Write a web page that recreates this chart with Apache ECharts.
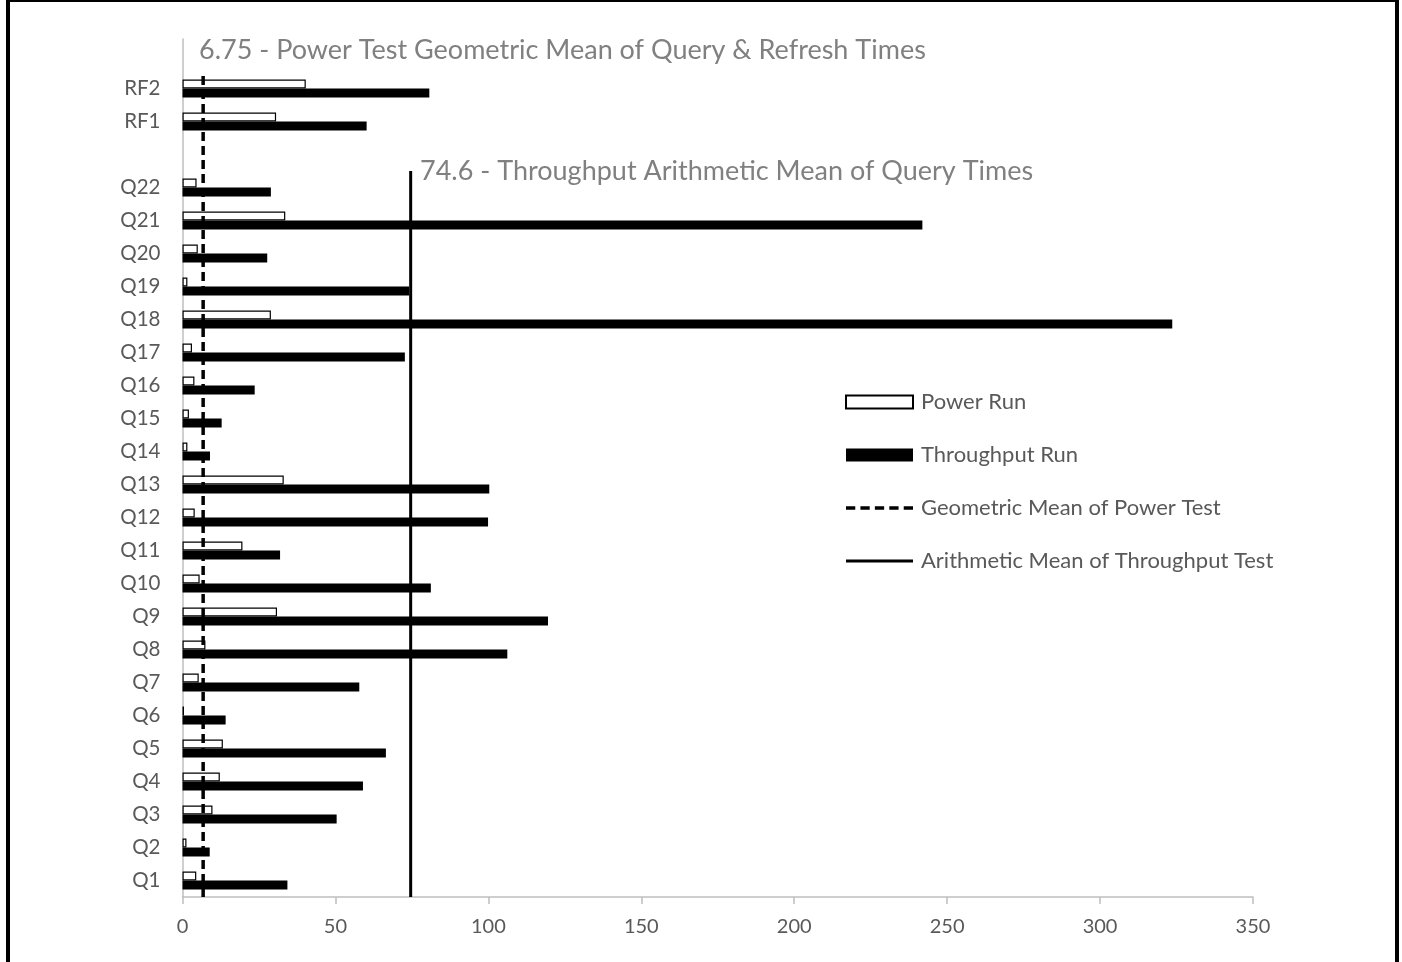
<!DOCTYPE html>
<html>
<head>
<meta charset="utf-8">
<script src="https://cdn.jsdelivr.net/npm/echarts@6/dist/echarts.min.js"></script>
<style>
  html, body { margin: 0; padding: 0; background: #fff; }
  #chart { width: 1402px; height: 962px; position: absolute; left: 0; top: 0; }
  #frame { position: absolute; left: 6px; top: 0; width: 1385px; height: 970px;
           border-left: 4px solid #000; border-right: 4px solid #000; border-top: 2px solid #000;
           pointer-events: none; }
</style>
</head>
<body>
<div id="chart"></div>
<div id="frame"></div>
<script>
// Categories from bottom to top (blank slots are spacers)
const categories = ['Q1','Q2','Q3','Q4','Q5','Q6','Q7','Q8','Q9','Q10','Q11','Q12','Q13','Q14','Q15','Q16','Q17','Q18','Q19','Q20','Q21','Q22',' ','RF1','RF2','  '];
const powerRun = [4.5, 1.3, 9.8, 12.2, 13.2, 0.5, 5.3, 7.5, 30.9, 5.6, 19.6, 4.0, 33.1, 1.6, 2.1, 3.9, 3.1, 28.9, 1.6, 5.0, 33.6, 4.6, null, 30.6, 40.3, null];
const throughputRun = [34.3, 8.9, 50.4, 59.0, 66.5, 14.1, 57.8, 106.2, 119.5, 81.2, 31.9, 99.9, 100.3, 9.0, 12.8, 23.6, 72.7, 323.6, 74.1, 27.7, 241.9, 28.9, null, 60.2, 80.7, null];
const GEO_MEAN = 6.75;
const ARITH_MEAN = 74.6;
const xTicks = [0, 350, 50]; // min, max, interval
const seriesNames = ['Power Run', 'Throughput Run', 'Geometric Mean of Power Test', 'Arithmetic Mean of Throughput Test'];
const geoLabel = GEO_MEAN + ' - Power Test Geometric Mean of Query & Refresh Times';
const arithLabel = ARITH_MEAN + ' - Throughput Arithmetic Mean of Query Times';

const FONT = 'Lato';
const dashIcon = 'path://M0,0H9V3.5H0Z M14,0H23V3.5H14Z M28,0H37V3.5H28Z M42,0H51V3.5H42Z M56,0H65V3.5H56Z';
const solidIcon = 'path://M0,0H67V3H0Z';

const chart = echarts.init(document.getElementById('chart'));
const option = {
  animation: false,
  backgroundColor: '#fff',
  textStyle: { fontFamily: FONT },
  grid: { left: 182.5, right: 149, top: 39, bottom: 65, containLabel: false },
  legend: {
    orient: 'vertical',
    left: 845, top: 391, padding: 0,
    itemWidth: 67, itemHeight: 13, itemGap: 31,
    data: [
      { name: seriesNames[0], icon: 'rect' },
      { name: seriesNames[1], icon: 'rect' },
      { name: seriesNames[2], icon: dashIcon, itemStyle: { color: '#000', borderWidth: 0 } },
      { name: seriesNames[3], icon: solidIcon, itemStyle: { color: '#000', borderWidth: 0 } }
    ],
    textStyle: { fontFamily: FONT, fontSize: 22, color: '#595959', padding: [0, 0, 0, 3] }
  },
  xAxis: {
    type: 'value', min: xTicks[0], max: xTicks[1], interval: xTicks[2],
    splitLine: { show: false },
    axisLine: { show: true, lineStyle: { color: '#bfbfbf', width: 1.5 } },
    axisTick: { show: true, length: 7, lineStyle: { color: '#bfbfbf', width: 1.5 } },
    axisLabel: { color: '#595959', fontSize: 20, fontFamily: FONT, margin: 20 }
  },
  yAxis: [
    {
      type: 'category', data: categories,
      axisLine: { show: true, lineStyle: { color: '#bfbfbf', width: 1.5 } },
      axisTick: { show: false },
      axisLabel: { color: '#595959', fontSize: 20.5, fontFamily: FONT, margin: 22 },
      splitLine: { show: false }
    },
    { type: 'value', min: 0, max: categories.length, show: false }
  ],
  series: [
    {
      name: seriesNames[0], type: 'bar', data: powerRun, barWidth: 9, barGap: '0%',
      itemStyle: { color: '#ffffff', borderColor: '#000', borderWidth: 1.2 }
    },
    {
      name: seriesNames[1], type: 'bar', data: throughputRun, barWidth: 9, barGap: '0%',
      itemStyle: { color: '#000000' }
    },
    {
      name: seriesNames[2], type: 'line', yAxisIndex: 1, symbol: 'none',
      data: [[GEO_MEAN, 0], [GEO_MEAN, 25]],
      lineStyle: { color: '#000', width: 3.5, type: [9, 5] },
      itemStyle: { color: '#000' }, z: 5
    },
    {
      name: seriesNames[3], type: 'line', yAxisIndex: 1, symbol: 'none',
      data: [[ARITH_MEAN, 0], [ARITH_MEAN, 22]],
      lineStyle: { color: '#000', width: 3 },
      itemStyle: { color: '#000' }, z: 5
    }
  ],
  graphic: [
    { type: 'text', left: 199, top: 36.5, style: { text: geoLabel, fill: '#808080', font: '27px ' + FONT } },
    { type: 'text', left: 420, top: 157.5, style: { text: arithLabel, fill: '#808080', font: '27px ' + FONT } }
  ]
};
chart.setOption(option);
</script>
</body>
</html>
